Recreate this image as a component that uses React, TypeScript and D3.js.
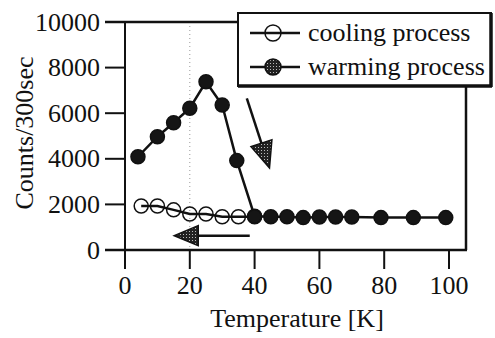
import React from "react";
import * as d3 from "d3";

const coolingT = [5, 10, 15, 20, 25, 30, 35, 40];
const coolingC = [1930, 1930, 1760, 1580, 1580, 1460, 1460, 1460];
const warmingT = [4, 10, 15, 20, 25, 30, 34.5, 40, 45, 50, 55, 60, 65, 70, 79, 89, 99];
const warmingC = [4090, 4970, 5580, 6220, 7380, 6360, 3920, 1480, 1460, 1460, 1420, 1450, 1450, 1450, 1420, 1420, 1420];
const xTicks = [0, 20, 40, 60, 80, 100];
const yTicks = [0, 2000, 4000, 6000, 8000, 10000];
const legendLabels = ["cooling process", "warming process"];
// annotation arrows in data units: [fromT, fromC, tipT, tipC]
const arrowDown = [37.6, 6650, 44.6, 3600];
const arrowLeft = [38.5, 630, 15.2, 630];

const W = 495, H = 338;
const FONT = "'Liberation Serif', 'Times New Roman', serif";
const FS = 26;

export default function App() {
  const x = d3.scaleLinear().domain([0, 100]).range([125, 449]);
  const y = d3.scaleLinear().domain([0, 10000]).range([250, 22]);
  const line = d3.line<[number, number]>().x(d => x(d[0])).y(d => y(d[1]));
  const cool = coolingT.map((t, i) => [t, coolingC[i]] as [number, number]);
  const warm = warmingT.map((t, i) => [t, warmingC[i]] as [number, number]);

  const arrow = (a: number[], headLen: number, headHalf: number) => {
    const x0 = x(a[0]), y0 = y(a[1]), x1 = x(a[2]), y1 = y(a[3]);
    const dx = x1 - x0, dy = y1 - y0;
    const L = Math.hypot(dx, dy);
    const ux = dx / L, uy = dy / L;
    const bx = x1 - ux * headLen, by = y1 - uy * headLen;
    const px = -uy, py = ux;
    return (
      <g>
        <line x1={x0} y1={y0} x2={bx + ux * 2} y2={by + uy * 2} stroke="#111" strokeWidth={2.5} />
        <polygon
          points={`${x1},${y1} ${bx + px * headHalf},${by + py * headHalf} ${bx - px * headHalf},${by - py * headHalf}`}
          fill="url(#dots)" stroke="#111" strokeWidth={1.5}
        />
      </g>
    );
  };

  const r = 7;
  return (
    <svg width={W} height={H} style={{ position: "absolute", left: 0, top: 0, background: "#fff" }}>
      <defs>
        <pattern id="dots" width="3" height="3" patternUnits="userSpaceOnUse">
          <rect width="3" height="3" fill="#222" />
          <rect width="1" height="1" fill="#bbb" />
        </pattern>
      </defs>
      {/* grid line at 20 */}
      <line x1={x(20)} x2={x(20)} y1={y(10000)} y2={y(0)} stroke="#999" strokeWidth={1} strokeDasharray="1,3" />
      {/* frame */}
      <line x1={105} x2={237} y1={y(10000)} y2={y(10000)} stroke="#111" strokeWidth={2.5} />
      <line x1={x(0)} x2={x(0)} y1={y(10000)} y2={y(0)} stroke="#111" strokeWidth={2} />
      <line x1={105} x2={467} y1={y(0)} y2={y(0)} stroke="#111" strokeWidth={2.5} />
      <line x1={466} x2={466} y1={86} y2={y(0)} stroke="#111" strokeWidth={2.5} />
      {/* y ticks */}
      {yTicks.map(t => (
        <g key={"y" + t}>
          <line x1={105} x2={x(0)} y1={y(t)} y2={y(t)} stroke="#111" strokeWidth={2} />
          <text x={100} y={y(t) + 8.5} textAnchor="end" fontFamily={FONT} fontSize={FS} fill="#111">{t}</text>
        </g>
      ))}
      {/* x ticks */}
      {xTicks.map(t => (
        <g key={"x" + t}>
          <line x1={x(t)} x2={x(t)} y1={y(0)} y2={y(0) + 19} stroke="#111" strokeWidth={2} />
          <text x={x(t)} y={294} textAnchor="middle" fontFamily={FONT} fontSize={FS} fill="#111">{t}</text>
        </g>
      ))}
      <text x={297} y={327} textAnchor="middle" fontFamily={FONT} fontSize={FS} fill="#111">Temperature [K]</text>
      <text transform={`translate(33,${133}) rotate(-90)`} textAnchor="middle" fontFamily={FONT} fontSize={FS} fill="#111">Counts/300sec</text>
      {/* series */}
      <path d={line(warm) || ""} fill="none" stroke="#111" strokeWidth={2.5} />
      <path d={line(cool) || ""} fill="none" stroke="#111" strokeWidth={2.5} />
      {warm.map((d, i) => (
        <circle key={"w" + i} cx={x(d[0])} cy={y(d[1])} r={r} fill="#151515" stroke="#111" strokeWidth={1.5} />
      ))}
      {cool.map((d, i) => (
        <circle key={"c" + i} cx={x(d[0])} cy={y(d[1])} r={r} fill="none" stroke="#111" strokeWidth={1.5} />
      ))}
      {/* arrows */}
      {arrow(arrowDown, 26, 11)}
      {arrow(arrowLeft, 24, 10)}
      {/* legend */}
      <rect x={238} y={13} width={253} height={73} fill="#fff" stroke="#111" strokeWidth={2} />
      <line x1={491} x2={491} y1={13} y2={87} stroke="#111" strokeWidth={3.5} />
      <line x1={238} x2={492} y1={86} y2={86} stroke="#111" strokeWidth={3.5} />
      {legendLabels.map((lab, i) => {
        const cy = 33 + i * 34;
        return (
          <g key={lab}>
            <line x1={250} x2={300} y1={cy} y2={cy} stroke="#111" strokeWidth={2.5} />
            <circle cx={273} cy={cy} r={8} fill={i === 0 ? "none" : "url(#dots)"} stroke="#111" strokeWidth={1.5} />
            <text x={308} y={cy + 8} fontFamily={FONT} fontSize={FS} fill="#111">{lab}</text>
          </g>
        );
      })}
    </svg>
  );
}
